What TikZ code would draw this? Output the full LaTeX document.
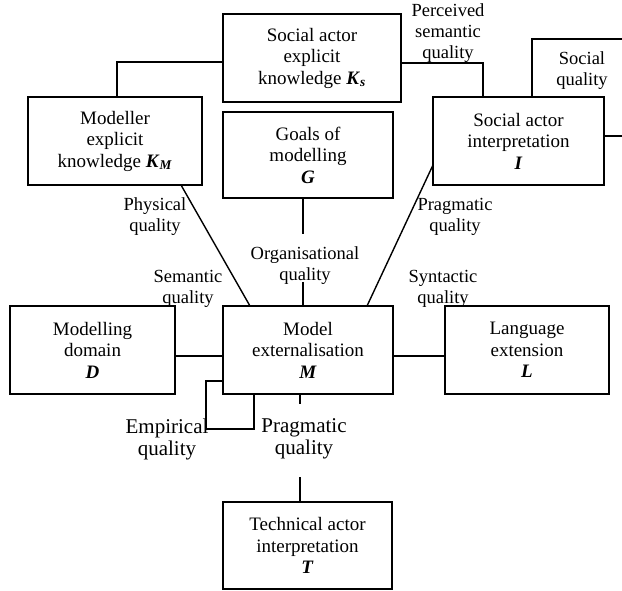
\documentclass[tikz,border=0pt]{standalone}
\usepackage{fontspec}
\setmainfont{Liberation Serif}
\begin{document}
\begin{tikzpicture}[x=1pt,y=-1pt,
  box/.style={draw,line width=2pt,inner sep=0pt,outer sep=0pt,align=center,
    font=\fontsize{19}{21.5}\selectfont},
  lab/.style={inner sep=0pt,align=center,font=\fontsize{18.5}{21}\selectfont},
  biglab/.style={inner sep=0pt,align=center,font=\fontsize{21}{22}\selectfont},
  conn/.style={line width=1.4pt}]
\useasboundingbox (0,0) rectangle (622,591);
\newcommand{\bi}[1]{\textbf{\textit{#1}}}
% boxes
\node[box,minimum width=178pt,minimum height=88pt] (Ks) at (312,58)
  {Social actor\\explicit\\knowledge \bi{K}\textsubscript{\bi{s}}};
\node[box,minimum width=174pt,minimum height=88pt] (KM) at (115,141)
  {Modeller\\explicit\\knowledge \bi{K}\textsubscript{\bi{M}}};
\node[box,minimum width=170pt,minimum height=86pt] (G) at (308,155)
  {Goals of\\modelling\\\bi{G}};
\node[box,minimum width=171pt,minimum height=88pt] (I) at (518.5,141)
  {Social actor\\interpretation\\\bi{I}};
\node[box,minimum width=165pt,minimum height=88pt] (D) at (92.5,350)
  {Modelling\\domain\\\bi{D}};
\node[box,minimum width=170pt,minimum height=88pt] (M) at (308,350)
  {Model\\externalisation\\\bi{M}};
\node[box,minimum width=164pt,minimum height=88pt] (L) at (527,350)
  {Language\\extension\\\bi{L}};
\node[box,minimum width=169pt,minimum height=87pt] (T) at (307.5,545.5)
  {Technical actor\\interpretation\\\bi{T}};
% free ends
\coordinate (sq1) at (626,39);
\coordinate (sq2) at (626,136);
\coordinate (gt) at (303,234);
\coordinate (ot) at (303,282);
\coordinate (lp1) at (206,429);
\coordinate (pt1) at (300,404);
\coordinate (pt2) at (300,477);
% connectors
\draw[conn] ([yshift=-4pt]Ks.west) -| ([xshift=2pt]KM.north);
\draw[conn] ([yshift=-5pt]Ks.east) -| ([xshift=-35.5pt]I.north);
\draw[conn] ([xshift=13.5pt]I.north) |- (sq1);
\draw[conn] ([yshift=5pt]I.east) -- (sq2);
\draw[conn] ([xshift=66pt]KM.south) -- ([xshift=-58pt]M.north);
\draw[conn] ([yshift=-24pt]I.west) -- ([xshift=59pt]M.north);
\draw[conn] ([xshift=-5pt]G.south) -- (gt);
\draw[conn] (ot) -- ([xshift=-5pt]M.north);
\draw[conn] ([yshift=-6pt]D.east) -- ([yshift=-6pt]M.west);
\draw[conn] ([yshift=-6pt]M.east) -- ([yshift=-6pt]L.west);
\draw[conn] ([yshift=-31pt]M.west) -| (lp1) -| ([xshift=-54pt]M.south);
\draw[conn] ([xshift=-8pt]M.south) -- (pt1);
\draw[conn] (pt2) -- ([xshift=-7.5pt]T.north);
% labels
\node[lab] (lps) at (448,33) {Perceived\\semantic\\quality};
\node[lab] (lsq) at (582,71) {Social\\quality};
\node[lab] (lph) at (155,217) {Physical\\quality};
\node[lab] (lpr) at (455,217) {Pragmatic\\quality};
\node[lab] (lor) at (305,266) {Organisational\\quality};
\node[lab] (lse) at (188,289) {Semantic\\quality};
\node[lab] (lsy) at (443,289) {Syntactic\\quality};
\node[biglab] (lem) at (167,439) {Empirical\\quality};
\node[biglab] (lpr2) at (304,439) {Pragmatic\\quality};
\end{tikzpicture}
\end{document}
